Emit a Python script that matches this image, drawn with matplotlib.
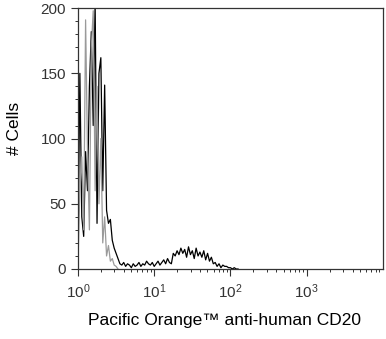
import matplotlib
matplotlib.use('Agg')
import matplotlib.pyplot as plt
import numpy as np
from matplotlib.ticker import LogLocator, MultipleLocator, LogFormatterMathtext

plt.rcParams['font.family'] = ['Liberation Sans', 'DejaVu Sans']
plt.rcParams['mathtext.default'] = 'regular'

# histogram channels, in decades (log10 of fluorescence), 0.025 decade per bin
bin_step = 0.025

# CD20 stained cells (black)
stained = [10, 150, 40, 25, 90, 60, 140, 182, 110, 205,
           35, 150, 162, 60, 141, 45, 35, 38, 22, 16,
           12, 8, 4, 3, 5, 2, 4, 3, 1, 4,
           2, 3, 5, 2, 4, 3, 6, 4, 3, 5,
           2, 4, 6, 3, 5, 7, 4, 8, 5, 4,
           12, 10, 14, 11, 16, 12, 15, 9, 17, 11,
           14, 8, 16, 10, 13, 9, 14, 7, 12, 6,
           9, 4, 5, 2, 4, 1, 3, 2, 2, 1,
           1, 0, 1, 0, 0]

# isotype control (grey)
control = [5, 60, 86, 30, 191, 90, 30, 170, 198, 60,
           140, 50, 100, 20, 40, 10, 18, 6, 8, 3,
           2, 0]

x_stained = 10 ** (np.arange(len(stained)) * bin_step)
x_control = 10 ** (np.arange(len(control)) * bin_step)

fig = plt.figure(figsize=(3.86, 3.39), dpi=100)
ax = fig.add_axes([0.202, 0.2065, 0.79, 0.7695])

ax.plot(x_stained, stained, color='black', lw=0.9)
ax.plot(x_control, control, color='#9a9a9a', lw=0.9)

ax.set_xscale('log')
ax.set_xlim(1, 1e4)
ax.set_ylim(0, 200)
ax.set_xticks([1, 10, 100, 1000])
ax.xaxis.set_major_formatter(LogFormatterMathtext())
ax.xaxis.set_minor_locator(LogLocator(base=10, subs=np.arange(2, 10), numticks=20))
ax.yaxis.set_major_locator(MultipleLocator(50))
ax.yaxis.set_minor_locator(MultipleLocator(10))

ax.tick_params(which='major', length=5, width=0.8, labelsize=11, color='#333333')
ax.tick_params(which='minor', length=2.5, width=0.7, color='#333333')
ax.tick_params(axis='x', which='both', pad=5)
ax.tick_params(axis='y', labelcolor='#333333')
ax.tick_params(axis='x', labelcolor='#333333')
for s in ax.spines.values():
    s.set_linewidth(0.9)
    s.set_color('#333333')

ax.set_xlabel('Pacific Orange\u2122 anti-human CD20', fontsize=12.5)
ax.set_ylabel('# Cells', fontsize=12.5)
ax.xaxis.set_label_coords(0.482, -0.17)
ax.yaxis.set_label_coords(-0.185, 0.54)

fig.savefig('out.png', dpi=100)
